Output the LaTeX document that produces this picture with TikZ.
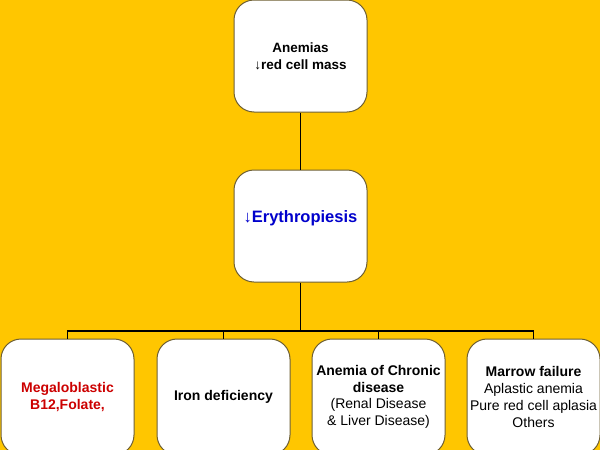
\documentclass[tikz,border=0pt]{standalone}
\usepackage{fontspec}
\setmainfont{Liberation Sans}
\definecolor{bg}{RGB}{255,198,0}
\definecolor{edge}{RGB}{110,95,50}
\definecolor{redtxt}{RGB}{204,0,0}
\definecolor{bluetxt}{RGB}{0,0,204}
\tikzset{
  box/.style={draw=edge, line width=1pt, fill=white, rounded corners=20pt, inner sep=0pt, align=center},
  txt/.style={inner sep=0pt, align=center},
  conn/.style={draw=black, line width=1.5pt},
}
\begin{document}
\begin{tikzpicture}[x=1pt,y=-1pt]
\useasboundingbox (0,0) rectangle (600,450);
\clip (0,0) rectangle (600,450);
\fill[bg] (0,0) rectangle (600,450);
% boxes
\node[box, minimum width=133pt, minimum height=112pt, font=\fontsize{13.5}{17}\selectfont\bfseries] (top) at (300.5,56) {Anemias\\↓red cell mass};
\node[box, minimum width=133pt, minimum height=112pt] (mid) at (300.5,226) {};
\node[txt, font=\fontsize{16.5}{19}\selectfont\bfseries, text=bluetxt] (midtxt) at (300.5,218) {↓Erythropiesis};
\node[box, minimum width=133pt, minimum height=116pt, font=\fontsize{14}{16.7}\selectfont\bfseries, text=redtxt] (b1) at (67.5,397) {Megaloblastic\\B12,Folate,};
\node[box, minimum width=133pt, minimum height=116pt, font=\fontsize{14}{16.7}\selectfont\bfseries] (b2) at (223.5,397) {Iron deficiency};
\node[box, minimum width=133pt, minimum height=116pt, font=\fontsize{14}{16.7}\selectfont] (b3) at (378.5,397) {\textbf{Anemia of Chronic}\\\textbf{disease}\\(Renal Disease\\\& Liver Disease)};
\node[box, minimum width=133pt, minimum height=116pt, font=\fontsize{14}{16.7}\selectfont] (b4) at (533.5,397) {\textbf{Marrow failure}\\Aplastic anemia\\Pure red cell aplasia\\Others};
% connectors
\coordinate (bus) at (300.5,331);
\draw[conn] (top.south) -- (mid.north);
\draw[conn] (mid.south) -- (bus);
\draw[conn] (b1.north) |- (bus);
\draw[conn] (b2.north) |- (bus);
\draw[conn] (b3.north) |- (bus);
\draw[conn] (b4.north) |- (bus);
\end{tikzpicture}
\end{document}
